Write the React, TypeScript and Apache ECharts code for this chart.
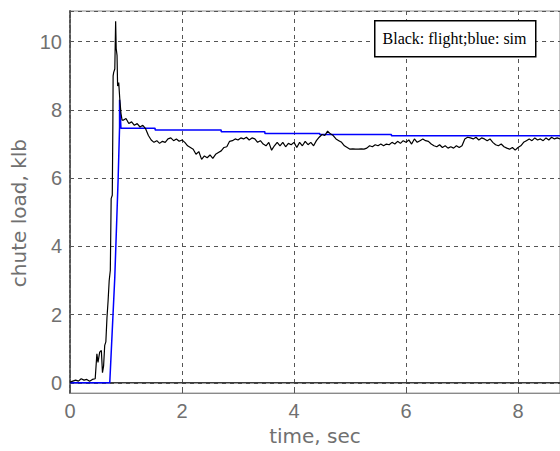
import React, { useEffect, useRef } from "react";
import * as echarts from "echarts";

const flightT = [
  0, 0.05, 0.1, 0.15, 0.2, 0.25, 0.3, 0.35, 0.4, 0.45,
  0.48, 0.5, 0.53, 0.56, 0.58, 0.6, 0.62, 0.64, 0.66, 0.68, 0.7, 0.72, 0.735, 0.755, 0.765, 0.77, 0.78, 0.8, 0.815, 0.825, 0.84, 0.85, 0.87, 0.89, 0.91, 0.93,
  0.95, 1.0, 1.05, 1.1, 1.15, 1.2, 1.25, 1.3, 1.35, 1.4, 1.45, 1.5, 1.55, 1.6, 1.65, 1.7, 1.75, 1.8, 1.85, 1.9, 1.95,
  2.0, 2.05, 2.1, 2.15, 2.2, 2.25, 2.3, 2.35, 2.4, 2.45, 2.5, 2.55, 2.6, 2.65, 2.7, 2.75, 2.8, 2.85, 2.9, 2.95,
  3.0, 3.05, 3.1, 3.15, 3.2, 3.25, 3.3, 3.35, 3.4, 3.45, 3.5, 3.55, 3.6, 3.65, 3.7, 3.75, 3.8, 3.85, 3.9, 3.95,
  4.0, 4.05, 4.1, 4.15, 4.2, 4.25, 4.3, 4.35, 4.4, 4.45, 4.5, 4.55, 4.6, 4.65, 4.7, 4.75, 4.8, 4.85, 4.9, 4.95,
  5.0, 5.05, 5.1, 5.15, 5.2, 5.25, 5.3, 5.35, 5.4, 5.45, 5.5, 5.55, 5.6, 5.65, 5.7, 5.75, 5.8, 5.85, 5.9, 5.95,
  6.0, 6.05, 6.1, 6.15, 6.2, 6.25, 6.3, 6.35, 6.4, 6.45, 6.5, 6.55, 6.6, 6.65, 6.7, 6.75, 6.8, 6.85, 6.9, 6.95,
  7.0, 7.05, 7.1, 7.15, 7.2, 7.25, 7.3, 7.35, 7.4, 7.45, 7.5, 7.55, 7.6, 7.65, 7.7, 7.75, 7.8, 7.85, 7.9, 7.95,
  8.0, 8.05, 8.1, 8.15, 8.2, 8.25, 8.3, 8.35, 8.4, 8.45, 8.5, 8.55, 8.6, 8.65, 8.7, 8.75, 8.8, 8.9,
];
const flightLoad = [
  0.02, 0.05, 0.08, 0.05, 0.12, 0.08, 0.1, 0.05, 0.1, 0.12,
  0.85, 0.6, 0.9, 0.95, 0.3, 0.5, 1.1, 1.2, 1.9, 2.4, 3.0, 3.3, 5.4, 5.5, 7.5, 9.0, 9.1, 9.2, 10.6, 9.8, 9.6, 8.7, 8.8, 8.3, 7.9, 7.7,
  7.7, 7.75, 7.6, 7.65, 7.55, 7.6, 7.5, 7.55, 7.45, 7.25, 7.12, 7.05, 7.1, 7.02, 7.08, 7.05, 7.15, 7.18, 7.1, 7.15, 7.08,
  7.12, 7.05, 6.95, 6.9, 6.85, 6.7, 6.78, 6.55, 6.65, 6.6, 6.68, 6.58, 6.7, 6.75, 6.8, 6.9, 6.92, 7.08, 7.1, 7.15,
  7.12, 7.18, 7.15, 7.2, 7.12, 7.18, 7.15, 7.05, 7.1, 7.0, 6.95, 7.05, 6.82, 6.95, 7.05, 6.95, 7.05, 6.92, 7.02, 6.98,
  7.05, 6.9, 7.05, 6.95, 7.08, 6.98, 7.05, 6.95, 7.1, 7.2, 7.28, 7.25, 7.38, 7.3, 7.25, 7.15, 7.1, 7.05, 6.95, 6.9,
  6.85, 6.86, 6.85, 6.85, 6.86, 6.85, 6.88, 6.95, 6.92, 6.98, 6.95, 7.0, 6.95, 7.0, 6.98, 7.05, 7.0, 7.08, 7.02, 7.1,
  7.05, 7.12, 7.0, 7.15, 7.05, 7.1, 7.15, 7.1, 7.08, 7.0, 6.95, 6.92, 6.98, 6.9, 6.95, 6.88, 6.92, 6.88, 6.95, 6.9,
  6.95, 7.15, 7.2, 7.18, 7.15, 7.2, 7.12, 7.18, 7.15, 7.1, 7.15, 7.05, 6.98, 6.95, 7.0, 6.92, 6.88, 6.85, 6.9, 6.82,
  6.9, 6.95, 7.05, 7.1, 7.15, 7.1, 7.18, 7.12, 7.15, 7.1, 7.18, 7.12, 7.2, 7.15, 7.18, 7.15, 7.2, 7.15,
];

const simT = [0, 0.71, 0.8, 0.86, 0.885, 0.885, 0.91, 1.52, 1.52, 2.7, 2.7, 3.48, 3.48, 4.46, 4.46, 5.74, 5.74, 8.9];
const simLoad = [0, 0, 3.1, 6.0, 7.5, 8.3, 7.46, 7.46, 7.41, 7.41, 7.36, 7.36, 7.31, 7.31, 7.28, 7.28, 7.24, 7.24];

const zeroT = [0, 8.9];
const zeroLoad = [0, 0];

const xTitle = "time, sec";
const yTitle = "chute load, klb";
const legendText = "Black: flight;blue: sim";

const zip = (a: number[], b: number[]) => a.map((v, i) => [v, b[i]]);

export default function App() {
  const ref = useRef<HTMLDivElement>(null);
  useEffect(() => {
    if (!ref.current) return;
    const chart = echarts.init(ref.current, undefined, { renderer: "svg" });
    const gray = "#707070";
    chart.setOption({
      animation: false,
      backgroundColor: "#ffffff",
      grid: { left: 70, top: 11, right: 0, bottom: 53, show: true, borderColor: "#8a8a8a", borderWidth: 1 },
      xAxis: {
        type: "value",
        min: 0,
        max: 8.75,
        interval: 2,
        name: xTitle,
        nameLocation: "middle",
        nameGap: 27,
        nameTextStyle: { color: gray, fontFamily: "DejaVu Sans", fontSize: 20 },
        axisLine: { show: true, onZero: false, lineStyle: { color: "#8a8a8a", width: 1 } },
        axisTick: { show: true, inside: true, length: 5, lineStyle: { color: "#555" } },
        axisLabel: { color: gray, fontFamily: "Liberation Sans", fontSize: 20, margin: 8, showMaxLabel: false },
        splitLine: { show: true, lineStyle: { color: "#555", type: [4, 4], width: 1 } },
      },
      yAxis: {
        type: "value",
        min: -0.3,
        max: 10.9,
        name: yTitle,
        nameLocation: "middle",
        nameGap: 34,
        nameTextStyle: { color: gray, fontFamily: "DejaVu Sans", fontSize: 20, padding: [0, 22, 0, 0] },
        axisLine: { show: true, onZero: false, lineStyle: { color: "#555", width: 2, type: [3, 2] } },
        axisTick: { show: false },
        axisLabel: { color: gray, fontFamily: "Liberation Sans", fontSize: 20, margin: 8, showMinLabel: false, showMaxLabel: false },
        splitLine: { show: true, lineStyle: { color: "#555", type: [4, 4], width: 1 } },
      },
      series: [
        {
          type: "line",
          name: "zero",
          data: zip(zeroT, zeroLoad),
          symbol: "none",
          lineStyle: { color: "#3a3a3a", width: 1.5 },
          z: 1,
        },
        {
          type: "line",
          name: "sim",
          data: zip(simT, simLoad),
          symbol: "none",
          lineStyle: { color: "#0000ff", width: 1.5 },
          z: 2,
        },
        {
          type: "line",
          name: "flight",
          data: zip(flightT, flightLoad),
          symbol: "none",
          lineStyle: { color: "#000000", width: 1.2 },
          z: 3,
        },
      ],
      graphic: [
        {
          type: "rect",
          left: 374,
          top: 20,
          shape: { width: 161, height: 36 },
          style: { fill: "#ffffff", stroke: "#000000", lineWidth: 1.5 },
          z: 100,
        },
        {
          type: "text",
          x: 454.5,
          y: 38,
          style: {
            text: legendText,
            fill: "#000000",
            font: "16px 'Liberation Serif'",
            textAlign: "center",
            textVerticalAlign: "middle",
          },
          z: 101,
        },
      ],
    });
    return () => chart.dispose();
  }, []);
  return <div ref={ref} style={{ width: 560, height: 451, position: "absolute", left: 0, top: 0 }} />;
}
